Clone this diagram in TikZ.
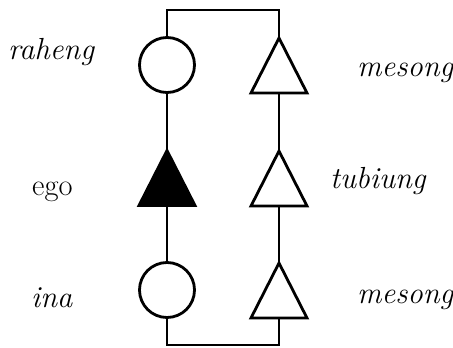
\documentclass[tikz,border=0pt]{standalone}
\begin{document}
\begin{tikzpicture}[x=1pt,y=-1pt,
  lw/.style={line width=2.8pt},
  circ/.style={circle,draw,lw,fill=white,minimum size=55pt,inner sep=0pt},
  lbl/.style={anchor=base west,inner sep=0pt,font=\fontsize{30.5}{34}\selectfont},
  tri/.pic={
    \draw[lw,line join=miter,fill=#1] (0,-27.5) -- (28,27.5) -- (-28,27.5) -- cycle;
    \coordinate (-top) at (0,-27.5);
    \coordinate (-bot) at (0,27.5);
  }]
\useasboundingbox (0,0) rectangle (453,348);
\node[circ] (c1) at (167,65) {};
\pic (t1) at (279,65.5) {tri=white};
\pic (t0) at (167,178) {tri=black};
\pic (t2) at (279,178.5) {tri=white};
\node[circ] (c2) at (167,290) {};
\pic (t3) at (279,290.5) {tri=white};
\coordinate (tl) at (167,10);
\coordinate (tr) at (279,10);
\coordinate (bl) at (167,345);
\coordinate (br) at (279,345);
\draw[lw,line join=miter] (c1.north) -- (tl) -- (tr) -- (t1-top);
\draw[lw] (c1.south) -- (t0-top);
\draw[lw] (t0-bot) -- (c2.north);
\draw[lw,line join=miter] (c2.south) -- (bl) -- (br) -- (t3-bot);
\draw[lw] (t1-bot) -- (t2-top);
\draw[lw] (t2-bot) -- (t3-top);
\node[lbl] (l1) at (8,59) {\itshape raheng};
\node[lbl] (l2) at (32,195) {ego};
\node[lbl] (l3) at (31,307) {\itshape ina};
\node[lbl] (r1) at (357,76) {\itshape mesong};
\node[lbl] (r2) at (330,188) {\itshape tubiung};
\node[lbl] (r3) at (357,303) {\itshape mesong};
\end{tikzpicture}
\end{document}
